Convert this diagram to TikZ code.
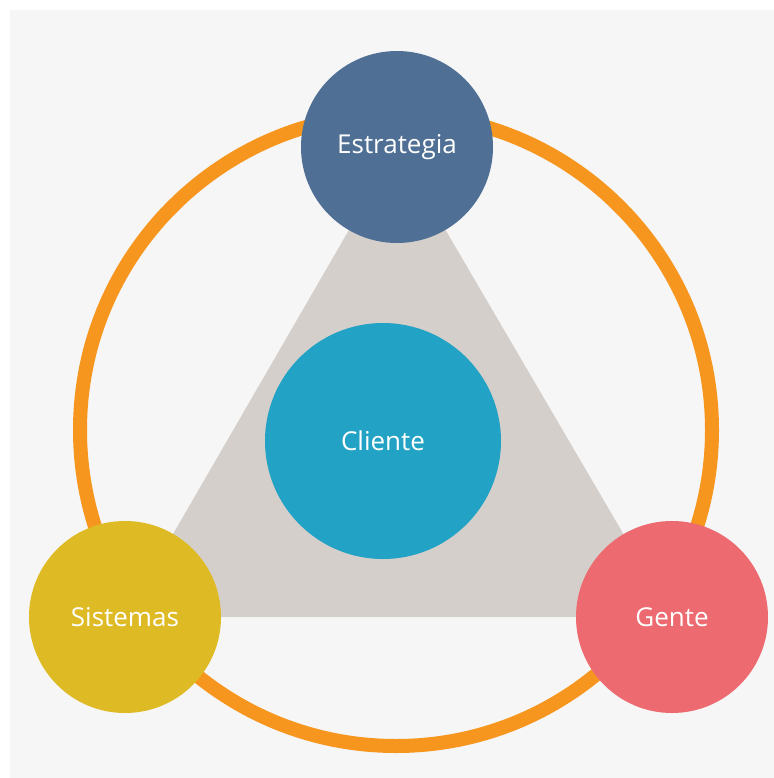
\documentclass[tikz,border=0pt]{standalone}
\usepackage{fontspec}
\setmainfont{Open Sans}
\usetikzlibrary{backgrounds}

\definecolor{paper}{HTML}{F6F6F6}
\definecolor{ringorange}{HTML}{F7961E}
\definecolor{wedge}{HTML}{D5CFCB}
\definecolor{slate}{HTML}{4F6F94}
\definecolor{mustard}{HTML}{DEBA24}
\definecolor{coral}{HTML}{EC6A70}
\definecolor{teal}{HTML}{22A2C4}

\begin{document}
\begin{tikzpicture}[
            x=0.75pt, y=-0.75pt,
            pillar/.style={circle, draw=none, minimum size=144pt, inner sep=0pt,
                text=white, font=\fontsize{19.5}{23}\selectfont},
            core/.style={pillar, minimum size=177pt},
            ring/.style={draw=ringorange, line width=10.5pt},
            area/.style={fill=wedge}
        ]
            \useasboundingbox (0, 0) rectangle (774, 778);
            % circles
            \node[pillar, fill=slate] (estrategia) at (397, 147) {Estrategia};
            \node[pillar, fill=mustard] (sistemas) at (125, 617) {Sistemas};
            \node[pillar, fill=coral] (gente) at (672, 617) {Gente};
            \node[core, fill=teal] (cliente) at (383, 441) {Cliente};
            \begin{scope}[on background layer]
                % paper
                \fill[white] (0, 0) rectangle (774, 778);
                \fill[paper] (10, 10) rectangle (774, 778);
                % ring
                \draw[ring] (396, 430) circle[radius=237pt];
                % area
                \path[area] (estrategia.center) -- (sistemas.center) -- (gente.center) -- cycle;
            \end{scope}
        \end{tikzpicture}
\end{document}
